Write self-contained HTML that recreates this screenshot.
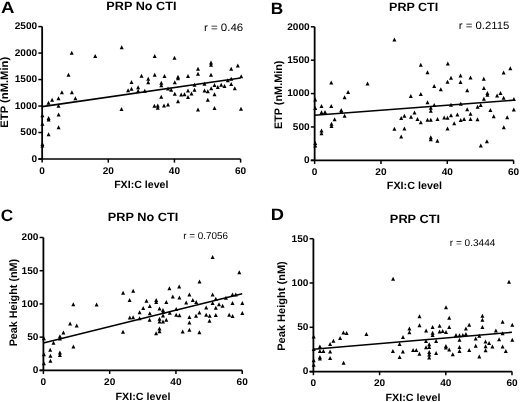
<!DOCTYPE html>
<html><head><meta charset="utf-8"><title>FXI:C correlation plots</title>
<style>
html,body{margin:0;padding:0;background:#fff;}
body{width:520px;height:402px;overflow:hidden;}
svg{display:block;filter:grayscale(1);}
text{font-family:"Liberation Sans", sans-serif;fill:#000;text-rendering:geometricPrecision;}
.tk{font-size:9.7px;font-weight:bold;}
.let{font-size:16.5px;font-weight:bold;}
.ttl{font-size:12px;font-weight:bold;}
.rr{font-size:10.6px;fill:#1a1a1a;}
.axl{font-size:10.5px;font-weight:bold;}
</style></head>
<body>
<svg width="520" height="402" viewBox="0 0 520 402">
<rect width="520" height="402" fill="#fff"/>
<path d="M42.15 26.6V159.0" stroke="#000" stroke-width="1.8" fill="none"/>
<path d="M38.35 159.0H240.6" stroke="#000" stroke-width="1.7" fill="none"/>
<path d="M38.35 159.00H42.15" stroke="#000" stroke-width="1.5"/>
<text transform="translate(37.15 161.80) scale(1.04 1)" class="tk" text-anchor="end">0</text>
<path d="M38.35 132.52H42.15" stroke="#000" stroke-width="1.5"/>
<text transform="translate(37.15 135.32) scale(1.04 1)" class="tk" text-anchor="end">500</text>
<path d="M38.35 106.04H42.15" stroke="#000" stroke-width="1.5"/>
<text transform="translate(37.15 108.84) scale(1.04 1)" class="tk" text-anchor="end">1000</text>
<path d="M38.35 79.56H42.15" stroke="#000" stroke-width="1.5"/>
<text transform="translate(37.15 82.36) scale(1.04 1)" class="tk" text-anchor="end">1500</text>
<path d="M38.35 53.08H42.15" stroke="#000" stroke-width="1.5"/>
<text transform="translate(37.15 55.88) scale(1.04 1)" class="tk" text-anchor="end">2000</text>
<path d="M38.35 26.60H42.15" stroke="#000" stroke-width="1.5"/>
<text transform="translate(37.15 29.40) scale(1.04 1)" class="tk" text-anchor="end">2500</text>
<path d="M42.15 159.0V162.6" stroke="#000" stroke-width="1.5"/>
<text transform="translate(42.15 173.60) scale(1.04 1)" class="tk" text-anchor="middle">0</text>
<path d="M108.30 159.0V162.6" stroke="#000" stroke-width="1.5"/>
<text transform="translate(108.30 173.60) scale(1.04 1)" class="tk" text-anchor="middle">20</text>
<path d="M174.45 159.0V162.6" stroke="#000" stroke-width="1.5"/>
<text transform="translate(174.45 173.60) scale(1.04 1)" class="tk" text-anchor="middle">40</text>
<path d="M240.60 159.0V162.6" stroke="#000" stroke-width="1.5"/>
<text transform="translate(240.60 173.60) scale(1.04 1)" class="tk" text-anchor="middle">60</text>
<path d="M42.15 106.6L240.6 78.0" stroke="#000" stroke-width="1.6" fill="none"/>
<path d="M42.40 113.30L44.40 117.30L40.40 117.30ZM42.40 121.70L44.40 125.70L40.40 125.70ZM42.40 142.10L44.40 146.10L40.40 146.10ZM42.40 143.40L44.40 147.40L40.40 147.40ZM48.50 100.70L50.50 104.70L46.50 104.70ZM48.60 116.10L50.60 120.10L46.60 120.10ZM48.60 117.60L50.60 121.60L46.60 121.60ZM48.60 132.30L50.60 136.30L46.60 136.30ZM52.10 97.80L54.10 101.80L50.10 101.80ZM58.50 96.30L60.50 100.30L56.50 100.30ZM58.50 103.80L60.50 107.80L56.50 107.80ZM58.60 112.60L60.60 116.60L56.60 116.60ZM58.60 125.20L60.60 129.20L56.60 129.20ZM61.90 90.30L63.90 94.30L59.90 94.30ZM71.90 90.30L73.90 94.30L69.90 94.30ZM75.40 96.30L77.40 100.30L73.40 100.30ZM68.50 72.80L70.50 76.80L66.50 76.80ZM71.70 50.70L73.70 54.70L69.70 54.70ZM95.20 54.10L97.20 58.10L93.20 58.10ZM121.70 45.30L123.70 49.30L119.70 49.30ZM121.50 106.90L123.50 110.90L119.50 110.90ZM131.50 80.10L133.50 84.10L129.50 84.10ZM128.10 88.30L130.10 92.30L126.10 92.30ZM131.50 86.80L133.50 90.80L129.50 90.80ZM138.10 85.30L140.10 89.30L136.10 89.30ZM138.10 88.80L140.10 92.80L136.10 92.80ZM144.75 88.80L146.75 92.80L142.75 92.80ZM141.50 73.80L143.50 77.80L139.50 77.80ZM148.20 76.80L150.20 80.80L146.20 80.80ZM148.20 80.30L150.20 84.30L146.20 84.30ZM154.70 54.10L156.70 58.10L152.70 58.10ZM154.70 72.80L156.70 76.80L152.70 76.80ZM154.40 103.80L156.40 107.80L152.40 107.80ZM157.75 103.40L159.75 107.40L155.75 107.40ZM157.75 105.80L159.75 109.80L155.75 109.80ZM161.30 80.80L163.30 84.80L159.30 84.80ZM161.30 83.30L163.30 87.30L159.30 87.30ZM161.25 94.70L163.25 98.70L159.25 98.70ZM164.50 74.00L166.50 78.00L162.50 78.00ZM164.00 103.40L166.00 107.40L162.00 107.40ZM168.00 102.60L170.00 106.60L166.00 106.60ZM168.00 86.60L170.00 90.60L166.00 90.60ZM171.20 87.80L173.20 91.80L169.20 91.80ZM174.50 55.80L176.50 59.80L172.50 59.80ZM174.80 80.30L176.80 84.30L172.80 84.30ZM174.80 91.80L176.80 95.80L172.80 95.80ZM178.00 74.80L180.00 78.80L176.00 78.80ZM178.00 76.30L180.00 80.30L176.00 80.30ZM178.00 99.30L180.00 103.30L176.00 103.30ZM181.20 92.60L183.20 96.60L179.20 96.60ZM184.50 92.30L186.50 96.30L182.50 96.30ZM188.00 74.00L190.00 78.00L186.00 78.00ZM188.00 88.60L190.00 92.60L186.00 92.60ZM188.00 95.00L190.00 99.00L186.00 99.00ZM191.50 91.60L193.50 95.60L189.50 95.60ZM194.50 82.80L196.50 86.80L192.50 86.80ZM194.50 87.80L196.50 91.80L192.50 91.80ZM198.00 66.80L200.00 70.80L196.00 70.80ZM198.00 71.80L200.00 75.80L196.00 75.80ZM198.00 107.60L200.00 111.60L196.00 111.60ZM204.50 81.80L206.50 85.80L202.50 85.80ZM204.50 88.60L206.50 92.60L202.50 92.60ZM207.80 89.30L209.80 93.30L205.80 93.30ZM207.80 97.80L209.80 101.80L205.80 101.80ZM211.00 60.60L213.00 64.60L209.00 64.60ZM211.00 62.80L213.00 66.80L209.00 66.80ZM211.00 72.80L213.00 76.80L209.00 76.80ZM211.20 86.30L213.20 90.30L209.20 90.30ZM214.50 83.00L216.50 87.00L212.50 87.00ZM214.50 92.30L216.50 96.30L212.50 96.30ZM214.50 106.00L216.50 110.00L212.50 110.00ZM217.80 85.00L219.80 89.00L215.80 89.00ZM221.20 82.80L223.20 86.80L219.20 86.80ZM224.50 84.00L226.50 88.00L222.50 88.00ZM227.80 78.30L229.80 82.30L225.80 82.30ZM231.20 66.80L233.20 70.80L229.20 70.80ZM231.20 76.80L233.20 80.80L229.20 80.80ZM231.20 82.00L233.20 86.00L229.20 86.00ZM234.80 86.30L236.80 90.30L232.80 90.30ZM237.80 63.50L239.80 67.50L235.80 67.50ZM241.20 74.30L243.20 78.30L239.20 78.30ZM241.00 106.80L243.00 110.80L239.00 110.80Z" fill="#000"/>
<text id="A_let" transform="translate(1.01 13.20) scale(1.1260 1)" style="font-size:16.50px;font-weight:bold">A</text>
<text id="A_ttl" transform="translate(141.36 10.24) scale(1.0550 1)" style="font-size:12.00px;font-weight:bold" text-anchor="middle">PRP No CTI</text>
<text id="A_r" transform="translate(203.89 31.47) scale(1.0859 1)" style="font-size:10.60px">r = 0.46</text>
<text id="A_xl" transform="translate(141.27 188.44) scale(1.0108 1)" style="font-size:10.50px;font-weight:bold" text-anchor="middle">FXI:C level</text>
<text id="A_yl" transform="translate(8.44 92.26) rotate(-90) scale(1.0295 1)" style="font-size:10.90px;font-weight:bold" text-anchor="middle">ETP (nM.Min)</text>
<path d="M314.65 26.8V160.35" stroke="#000" stroke-width="1.8" fill="none"/>
<path d="M310.84999999999997 160.35H513.6" stroke="#000" stroke-width="1.7" fill="none"/>
<path d="M310.84999999999997 160.35H314.65" stroke="#000" stroke-width="1.5"/>
<text transform="translate(309.65 163.15) scale(1.04 1)" class="tk" text-anchor="end">0</text>
<path d="M310.84999999999997 126.96H314.65" stroke="#000" stroke-width="1.5"/>
<text transform="translate(309.65 129.76) scale(1.04 1)" class="tk" text-anchor="end">500</text>
<path d="M310.84999999999997 93.58H314.65" stroke="#000" stroke-width="1.5"/>
<text transform="translate(309.65 96.38) scale(1.04 1)" class="tk" text-anchor="end">1000</text>
<path d="M310.84999999999997 60.19H314.65" stroke="#000" stroke-width="1.5"/>
<text transform="translate(309.65 62.99) scale(1.04 1)" class="tk" text-anchor="end">1500</text>
<path d="M310.84999999999997 26.80H314.65" stroke="#000" stroke-width="1.5"/>
<text transform="translate(309.65 29.60) scale(1.04 1)" class="tk" text-anchor="end">2000</text>
<path d="M314.65 160.35V163.95" stroke="#000" stroke-width="1.5"/>
<text transform="translate(314.65 174.95) scale(1.04 1)" class="tk" text-anchor="middle">0</text>
<path d="M380.97 160.35V163.95" stroke="#000" stroke-width="1.5"/>
<text transform="translate(380.97 174.95) scale(1.04 1)" class="tk" text-anchor="middle">20</text>
<path d="M447.28 160.35V163.95" stroke="#000" stroke-width="1.5"/>
<text transform="translate(447.28 174.95) scale(1.04 1)" class="tk" text-anchor="middle">40</text>
<path d="M513.60 160.35V163.95" stroke="#000" stroke-width="1.5"/>
<text transform="translate(513.60 174.95) scale(1.04 1)" class="tk" text-anchor="middle">60</text>
<path d="M314.65 115.3L513.6 100.2" stroke="#000" stroke-width="1.6" fill="none"/>
<path d="M331.25 80.55L333.25 84.55L329.25 84.55ZM348.10 90.05L350.10 94.05L346.10 94.05ZM344.60 95.30L346.60 99.30L342.60 99.30ZM315.25 97.55L317.25 101.55L313.25 101.55ZM321.50 104.05L323.50 108.05L319.50 108.05ZM331.25 104.05L333.25 108.05L329.25 108.05ZM315.25 105.90L317.25 109.90L313.25 109.90ZM321.50 110.30L323.50 114.30L319.50 114.30ZM325.00 110.05L327.00 114.05L323.00 114.05ZM341.25 108.05L343.25 112.05L339.25 112.05ZM341.25 109.80L343.25 113.80L339.25 113.80ZM344.60 113.80L346.60 117.80L342.60 117.80ZM334.60 117.30L336.60 121.30L332.60 121.30ZM331.50 121.80L333.50 125.80L329.50 125.80ZM331.50 124.05L333.50 128.05L329.50 128.05ZM321.50 128.40L323.50 132.40L319.50 132.40ZM321.50 131.30L323.50 135.30L319.50 135.30ZM315.25 140.90L317.25 144.90L313.25 144.90ZM315.25 143.40L317.25 147.40L313.25 147.40ZM394.40 37.55L396.40 41.55L392.40 41.55ZM367.50 81.55L369.50 85.55L365.50 85.55ZM420.80 62.80L422.80 66.80L418.80 66.80ZM447.80 61.60L449.80 65.60L445.80 65.60ZM427.50 70.30L429.50 74.30L425.50 74.30ZM451.00 75.80L453.00 79.80L449.00 79.80ZM447.50 79.80L449.50 83.80L445.50 83.80ZM434.20 84.00L436.20 88.00L432.20 88.00ZM440.80 87.30L442.80 91.30L438.80 91.30ZM420.80 92.00L422.80 96.00L418.80 96.00ZM410.80 94.00L412.80 98.00L408.80 98.00ZM427.50 100.30L429.50 104.30L425.50 104.30ZM434.20 103.00L436.20 107.00L432.20 107.00ZM430.80 105.80L432.80 109.80L428.80 109.80ZM430.80 108.80L432.80 112.80L428.80 112.80ZM451.00 102.80L453.00 106.80L449.00 106.80ZM414.50 110.60L416.50 114.60L412.50 114.60ZM411.00 114.80L413.00 118.80L409.00 118.80ZM404.40 113.80L406.40 117.80L402.40 117.80ZM401.20 116.00L403.20 120.00L399.20 120.00ZM417.50 117.00L419.50 121.00L415.50 121.00ZM420.80 120.30L422.80 124.30L418.80 124.30ZM427.50 117.80L429.50 121.80L425.50 121.80ZM430.80 117.80L432.80 121.80L428.80 121.80ZM437.50 117.00L439.50 121.00L435.50 121.00ZM444.20 115.60L446.20 119.60L442.20 119.60ZM447.50 115.80L449.50 119.80L445.50 119.80ZM451.00 113.30L453.00 117.30L449.00 117.30ZM454.20 121.30L456.20 125.30L452.20 125.30ZM447.50 126.50L449.50 130.50L445.50 130.50ZM394.40 126.80L396.40 130.80L392.40 130.80ZM404.40 126.50L406.40 130.50L402.40 130.50ZM401.20 134.60L403.20 138.60L399.20 138.60ZM430.80 135.20L432.80 139.20L428.80 139.20ZM430.80 137.30L432.80 141.30L428.80 141.30ZM437.40 138.80L439.40 142.80L435.40 142.80ZM510.30 66.20L512.30 70.20L508.30 70.20ZM503.60 70.60L505.60 74.60L501.60 74.60ZM460.50 73.60L462.50 77.60L458.50 77.60ZM470.50 75.40L472.50 79.40L468.50 79.40ZM483.80 76.80L485.80 80.80L481.80 80.80ZM460.50 79.90L462.50 83.90L458.50 83.90ZM467.20 88.30L469.20 92.30L465.20 92.30ZM483.90 86.00L485.90 90.00L481.90 90.00ZM487.40 90.90L489.40 94.90L485.40 94.90ZM487.40 92.70L489.40 96.70L485.40 96.70ZM497.10 93.60L499.10 97.60L495.10 97.60ZM500.50 90.90L502.50 94.90L498.50 94.90ZM503.60 95.80L505.60 99.80L501.60 99.80ZM483.90 96.70L485.90 100.70L481.90 100.70ZM513.90 97.10L515.90 101.10L511.90 101.10ZM460.80 101.70L462.80 105.70L458.80 105.70ZM480.70 103.10L482.70 107.10L478.70 107.10ZM477.60 104.80L479.60 108.80L475.60 108.80ZM467.20 107.30L469.20 111.30L465.20 111.30ZM490.40 108.10L492.40 112.10L488.40 112.10ZM513.80 107.40L515.80 111.40L511.80 111.40ZM470.50 111.70L472.50 115.70L468.50 115.70ZM457.40 112.50L459.40 116.50L455.40 116.50ZM493.70 114.30L495.70 118.30L491.70 118.30ZM507.20 115.20L509.20 119.20L505.20 119.20ZM460.70 118.10L462.70 122.10L458.70 122.10ZM464.10 117.10L466.10 121.10L462.10 121.10ZM470.50 117.10L472.50 121.10L468.50 121.10ZM477.50 117.30L479.50 121.30L475.50 121.30ZM503.80 125.30L505.80 129.30L501.80 129.30ZM486.90 139.30L488.90 143.30L484.90 143.30ZM480.80 143.60L482.80 147.60L478.80 147.60Z" fill="#000"/>
<text id="B_let" transform="translate(270.69 13.65) scale(1.0478 1)" style="font-size:16.50px;font-weight:bold">B</text>
<text id="B_ttl" transform="translate(413.65 11.25) scale(1.0425 1)" style="font-size:12.00px;font-weight:bold" text-anchor="middle">PRP CTI</text>
<text id="B_r" transform="translate(458.75 29.33) scale(1.0731 1)" style="font-size:10.60px">r = 0.2115</text>
<text id="B_xl" transform="translate(414.37 189.18) scale(1.0253 1)" style="font-size:10.50px;font-weight:bold" text-anchor="middle">FXI:C level</text>
<text id="B_yl" transform="translate(281.85 94.82) rotate(-90) scale(0.9969 1)" style="font-size:10.90px;font-weight:bold" text-anchor="middle">ETP (nM.Min)</text>
<path d="M43.4 237.5V370.35" stroke="#000" stroke-width="1.8" fill="none"/>
<path d="M39.6 370.35H242.2" stroke="#000" stroke-width="1.7" fill="none"/>
<path d="M39.6 370.35H43.4" stroke="#000" stroke-width="1.5"/>
<text transform="translate(38.40 373.15) scale(1.04 1)" class="tk" text-anchor="end">0</text>
<path d="M39.6 337.14H43.4" stroke="#000" stroke-width="1.5"/>
<text transform="translate(38.40 339.94) scale(1.04 1)" class="tk" text-anchor="end">50</text>
<path d="M39.6 303.93H43.4" stroke="#000" stroke-width="1.5"/>
<text transform="translate(38.40 306.73) scale(1.04 1)" class="tk" text-anchor="end">100</text>
<path d="M39.6 270.71H43.4" stroke="#000" stroke-width="1.5"/>
<text transform="translate(38.40 273.51) scale(1.04 1)" class="tk" text-anchor="end">150</text>
<path d="M39.6 237.50H43.4" stroke="#000" stroke-width="1.5"/>
<text transform="translate(38.40 240.30) scale(1.04 1)" class="tk" text-anchor="end">200</text>
<path d="M43.40 370.35V373.95000000000005" stroke="#000" stroke-width="1.5"/>
<text transform="translate(43.40 384.95) scale(1.04 1)" class="tk" text-anchor="middle">0</text>
<path d="M109.67 370.35V373.95000000000005" stroke="#000" stroke-width="1.5"/>
<text transform="translate(109.67 384.95) scale(1.04 1)" class="tk" text-anchor="middle">20</text>
<path d="M175.93 370.35V373.95000000000005" stroke="#000" stroke-width="1.5"/>
<text transform="translate(175.93 384.95) scale(1.04 1)" class="tk" text-anchor="middle">40</text>
<path d="M242.20 370.35V373.95000000000005" stroke="#000" stroke-width="1.5"/>
<text transform="translate(242.20 384.95) scale(1.04 1)" class="tk" text-anchor="middle">60</text>
<path d="M43.4 343.0L242.2 293.8" stroke="#000" stroke-width="1.6" fill="none"/>
<path d="M43.90 336.20L45.90 340.20L41.90 340.20ZM43.90 352.20L45.90 356.20L41.90 356.20ZM43.90 361.30L45.90 365.30L41.90 365.30ZM50.20 347.80L52.20 351.80L48.20 351.80ZM50.40 353.80L52.40 357.80L48.40 357.80ZM50.40 358.80L52.40 362.80L48.40 362.80ZM53.50 340.80L55.50 344.80L51.50 344.80ZM59.90 334.20L61.90 338.20L57.90 338.20ZM59.90 336.50L61.90 340.50L57.90 340.50ZM59.90 350.60L61.90 354.60L57.90 354.60ZM59.90 353.00L61.90 357.00L57.90 357.00ZM63.40 330.40L65.40 334.40L61.40 334.40ZM70.10 321.40L72.10 325.40L68.10 325.40ZM76.70 323.40L78.70 327.40L74.70 327.40ZM73.30 302.20L75.30 306.20L71.30 306.20ZM73.40 344.50L75.40 348.50L71.40 348.50ZM96.60 302.40L98.60 306.40L94.60 306.40ZM123.10 290.80L125.10 294.80L121.10 294.80ZM133.20 288.70L135.20 292.70L131.20 292.70ZM129.60 298.00L131.60 302.00L127.60 302.00ZM123.00 329.70L125.00 333.70L121.00 333.70ZM129.80 315.50L131.80 319.50L127.80 319.50ZM133.10 315.30L135.10 319.30L131.10 319.30ZM139.60 310.30L141.60 314.30L137.60 314.30ZM139.60 316.30L141.60 320.30L137.60 320.30ZM143.20 305.90L145.20 309.90L141.20 309.90ZM146.50 298.80L148.50 302.80L144.50 302.80ZM149.80 303.90L151.80 307.90L147.80 307.90ZM149.80 311.20L151.80 315.20L147.80 315.20ZM149.60 317.70L151.60 321.70L147.60 321.70ZM156.20 297.90L158.20 301.90L154.20 301.90ZM156.20 300.00L158.20 304.00L154.20 304.00ZM159.50 306.40L161.50 310.40L157.50 310.40ZM159.50 316.80L161.50 320.80L157.50 320.80ZM159.50 319.50L161.50 323.50L157.50 323.50ZM159.50 326.60L161.50 330.60L157.50 330.60ZM159.50 329.30L161.50 333.30L157.50 333.30ZM156.10 331.20L158.10 335.20L154.10 335.20ZM163.00 307.90L165.00 311.90L161.00 311.90ZM163.00 310.10L165.00 314.10L161.00 314.10ZM163.00 313.60L165.00 317.60L161.00 317.60ZM163.00 319.40L165.00 323.40L161.00 323.40ZM166.30 299.90L168.30 303.90L164.30 303.90ZM166.30 317.80L168.30 321.80L164.30 321.80ZM169.40 286.20L171.40 290.20L167.40 290.20ZM169.80 310.70L171.80 314.70L167.80 314.70ZM172.80 294.50L174.80 298.50L170.80 298.50ZM176.20 307.10L178.20 311.10L174.20 311.10ZM176.20 312.70L178.20 316.70L174.20 316.70ZM179.20 284.40L181.20 288.40L177.20 288.40ZM179.40 295.60L181.40 299.60L177.40 299.60ZM179.50 313.20L181.50 317.20L177.50 317.20ZM182.70 329.50L184.70 333.50L180.70 333.50ZM186.20 300.40L188.20 304.40L184.20 304.40ZM189.40 292.40L191.40 296.40L187.40 296.40ZM189.40 314.90L191.40 318.90L187.40 318.90ZM189.40 320.40L191.40 324.40L187.40 324.40ZM189.40 327.80L191.40 331.80L187.40 331.80ZM192.80 297.90L194.80 301.90L190.80 301.90ZM196.20 299.90L198.20 303.90L194.20 303.90ZM196.00 313.70L198.00 317.70L194.00 317.70ZM199.50 279.50L201.50 283.50L197.50 283.50ZM199.40 310.60L201.40 314.60L197.40 314.60ZM199.40 330.20L201.40 334.20L197.40 334.20ZM206.20 305.40L208.20 309.40L204.20 309.40ZM206.20 312.70L208.20 316.70L204.20 316.70ZM209.70 313.70L211.70 317.70L207.70 317.70ZM209.50 318.80L211.50 322.80L207.50 322.80ZM212.60 255.10L214.60 259.10L210.60 259.10ZM212.60 292.40L214.60 296.40L210.60 296.40ZM212.60 300.90L214.60 304.90L210.60 304.90ZM215.80 296.80L217.80 300.80L213.80 300.80ZM215.80 305.80L217.80 309.80L213.80 309.80ZM215.80 312.90L217.80 316.90L213.80 316.90ZM219.00 302.30L221.00 306.30L217.00 306.30ZM222.60 303.70L224.60 307.70L220.60 307.70ZM225.90 295.80L227.90 299.80L223.90 299.80ZM229.20 312.70L231.20 316.70L227.20 316.70ZM232.50 292.40L234.50 296.40L230.50 296.40ZM232.50 300.90L234.50 304.90L230.50 304.90ZM232.60 314.00L234.60 318.00L230.60 318.00ZM235.80 292.40L237.80 296.40L233.80 296.40ZM239.30 270.30L241.30 274.30L237.30 274.30ZM242.30 300.90L244.30 304.90L240.30 304.90ZM242.30 310.90L244.30 314.90L240.30 314.90Z" fill="#000"/>
<text id="C_let" transform="translate(0.83 220.70) scale(1.0399 1)" style="font-size:16.50px;font-weight:bold">C</text>
<text id="C_ttl" transform="translate(143.01 221.29) scale(1.0607 1)" style="font-size:12.00px;font-weight:bold" text-anchor="middle">PRP No CTI</text>
<text id="C_r" transform="translate(183.19 238.63) scale(1.0097 1)" style="font-size:9.80px">r = 0.7056</text>
<text id="C_xl" transform="translate(142.96 399.56) scale(1.0217 1)" style="font-size:10.50px;font-weight:bold" text-anchor="middle">FXI:C level</text>
<text id="C_yl" transform="translate(16.94 302.60) rotate(-90) scale(0.9909 1)" style="font-size:10.90px;font-weight:bold" text-anchor="middle">Peak Height (nM)</text>
<path d="M313.4 238.7V371.6" stroke="#000" stroke-width="1.8" fill="none"/>
<path d="M309.59999999999997 371.6H512.0" stroke="#000" stroke-width="1.7" fill="none"/>
<path d="M309.59999999999997 371.60H313.4" stroke="#000" stroke-width="1.5"/>
<text transform="translate(308.40 374.40) scale(1.04 1)" class="tk" text-anchor="end">0</text>
<path d="M309.59999999999997 327.30H313.4" stroke="#000" stroke-width="1.5"/>
<text transform="translate(308.40 330.10) scale(1.04 1)" class="tk" text-anchor="end">50</text>
<path d="M309.59999999999997 283.00H313.4" stroke="#000" stroke-width="1.5"/>
<text transform="translate(308.40 285.80) scale(1.04 1)" class="tk" text-anchor="end">100</text>
<path d="M309.59999999999997 238.70H313.4" stroke="#000" stroke-width="1.5"/>
<text transform="translate(308.40 241.50) scale(1.04 1)" class="tk" text-anchor="end">150</text>
<path d="M313.40 371.6V375.20000000000005" stroke="#000" stroke-width="1.5"/>
<text transform="translate(313.40 386.20) scale(1.04 1)" class="tk" text-anchor="middle">0</text>
<path d="M379.60 371.6V375.20000000000005" stroke="#000" stroke-width="1.5"/>
<text transform="translate(379.60 386.20) scale(1.04 1)" class="tk" text-anchor="middle">20</text>
<path d="M445.80 371.6V375.20000000000005" stroke="#000" stroke-width="1.5"/>
<text transform="translate(445.80 386.20) scale(1.04 1)" class="tk" text-anchor="middle">40</text>
<path d="M512.00 371.6V375.20000000000005" stroke="#000" stroke-width="1.5"/>
<text transform="translate(512.00 386.20) scale(1.04 1)" class="tk" text-anchor="middle">60</text>
<path d="M313.4 349.2L512.0 332.3" stroke="#000" stroke-width="1.6" fill="none"/>
<path d="M313.70 334.60L315.70 338.60L311.70 338.60ZM313.70 347.10L315.70 351.10L311.70 351.10ZM313.70 358.20L315.70 362.20L311.70 362.20ZM313.70 362.80L315.70 366.80L311.70 366.80ZM319.90 344.60L321.90 348.60L317.90 348.60ZM319.90 348.90L321.90 352.90L317.90 352.90ZM323.40 348.90L325.40 352.90L321.40 352.90ZM330.10 342.10L332.10 346.10L328.10 346.10ZM330.10 349.50L332.10 353.50L328.10 353.50ZM333.40 338.70L335.40 342.70L331.40 342.70ZM340.10 335.90L342.10 339.90L338.10 339.90ZM343.40 330.50L345.40 334.50L341.40 334.50ZM346.60 331.00L348.60 335.00L344.60 335.00ZM319.90 354.90L321.90 358.90L317.90 358.90ZM319.90 356.60L321.90 360.60L317.90 360.60ZM330.10 356.10L332.10 360.10L328.10 360.10ZM343.60 360.70L345.60 364.70L341.60 364.70ZM366.40 332.10L368.40 336.10L364.40 336.10ZM393.10 276.80L395.10 280.80L391.10 280.80ZM392.90 349.00L394.90 353.00L390.90 353.00ZM399.60 342.10L401.60 346.10L397.60 346.10ZM399.60 354.90L401.60 358.90L397.60 358.90ZM403.00 334.90L405.00 338.90L401.00 338.90ZM402.90 349.50L404.90 353.50L400.90 353.50ZM409.40 326.40L411.40 330.40L407.40 330.40ZM409.40 330.30L411.40 334.30L407.40 334.30ZM413.10 348.00L415.10 352.00L411.10 352.00ZM416.30 348.00L418.30 352.00L414.30 352.00ZM419.50 314.20L421.50 318.20L417.50 318.20ZM419.50 323.30L421.50 327.30L417.50 327.30ZM419.40 351.80L421.40 355.80L417.40 355.80ZM426.10 328.60L428.10 332.60L424.10 332.60ZM426.00 339.10L428.00 343.10L424.00 343.10ZM426.00 345.30L428.00 349.30L424.00 349.30ZM429.20 342.20L431.20 346.20L427.20 346.20ZM429.20 344.90L431.20 348.90L427.20 348.90ZM429.20 349.90L431.20 353.90L427.20 353.90ZM429.20 352.60L431.20 356.60L427.20 356.60ZM429.20 355.50L431.20 359.50L427.20 359.50ZM432.60 324.90L434.60 328.90L430.60 328.90ZM432.60 330.80L434.60 334.80L430.60 334.80ZM432.60 333.00L434.60 337.00L430.60 337.00ZM436.10 339.10L438.10 343.10L434.10 343.10ZM436.10 351.10L438.10 355.10L434.10 355.10ZM439.60 323.70L441.60 327.70L437.60 327.70ZM439.60 329.50L441.60 333.50L437.60 333.50ZM442.70 329.10L444.70 333.10L440.70 333.10ZM446.00 305.20L448.00 309.20L444.00 309.20ZM446.00 330.00L448.00 334.00L444.00 334.00ZM445.90 344.10L447.90 348.10L443.90 348.10ZM445.90 345.60L447.90 349.60L443.90 349.60ZM449.20 315.80L451.20 319.80L447.20 319.80ZM449.20 324.90L451.20 328.90L447.20 328.90ZM449.20 347.40L451.20 351.40L447.20 351.40ZM452.80 352.30L454.80 356.30L450.80 356.30ZM456.00 332.90L458.00 336.90L454.00 336.90ZM459.50 333.20L461.50 337.20L457.50 337.20ZM459.50 337.70L461.50 341.70L457.50 341.70ZM459.50 345.00L461.50 349.00L457.50 349.00ZM459.50 349.10L461.50 353.10L457.50 353.10ZM462.80 332.90L464.80 336.90L460.80 336.90ZM465.90 332.10L467.90 336.10L463.90 336.10ZM465.90 326.40L467.90 330.40L463.90 330.40ZM469.20 322.70L471.20 326.70L467.20 326.70ZM469.20 348.00L471.20 352.00L467.20 352.00ZM475.70 336.50L477.70 340.50L473.70 340.50ZM475.70 343.70L477.70 347.70L473.70 347.70ZM479.30 333.80L481.30 337.80L477.30 337.80ZM479.30 354.40L481.30 358.40L477.30 358.40ZM482.40 313.70L484.40 317.70L480.40 317.70ZM482.40 317.70L484.40 321.70L480.40 321.70ZM482.40 325.10L484.40 329.10L480.40 329.10ZM485.50 339.60L487.50 343.60L483.50 343.60ZM485.60 344.20L487.60 348.20L483.60 348.20ZM485.60 348.30L487.60 352.30L483.60 352.30ZM489.10 341.00L491.10 345.00L487.10 345.00ZM492.40 344.60L494.40 348.60L490.40 348.60ZM495.90 328.50L497.90 332.50L493.90 332.50ZM499.10 337.30L501.10 341.30L497.10 341.30ZM502.60 319.70L504.60 323.70L500.60 323.70ZM502.60 331.20L504.60 335.20L500.60 335.20ZM502.60 344.60L504.60 348.60L500.60 348.60ZM505.80 349.10L507.80 353.10L503.80 353.10ZM509.00 279.70L511.00 283.70L507.00 283.70ZM512.30 322.70L514.30 326.70L510.30 326.70ZM512.30 337.80L514.30 341.80L510.30 341.80Z" fill="#000"/>
<text id="D_let" transform="translate(270.63 219.66) scale(1.1111 1)" style="font-size:16.50px;font-weight:bold">D</text>
<text id="D_ttl" transform="translate(414.96 223.05) scale(1.0651 1)" style="font-size:12.00px;font-weight:bold" text-anchor="middle">PRP CTI</text>
<text id="D_r" transform="translate(449.81 246.33) scale(1.0252 1)" style="font-size:9.80px">r = 0.3444</text>
<text id="D_xl" transform="translate(412.96 400.96) scale(1.0217 1)" style="font-size:10.50px;font-weight:bold" text-anchor="middle">FXI:C level</text>
<text id="D_yl" transform="translate(285.05 305.99) rotate(-90) scale(1.0135 1)" style="font-size:10.90px;font-weight:bold" text-anchor="middle">Peak Height (nM)</text>
</svg>
</body></html>
